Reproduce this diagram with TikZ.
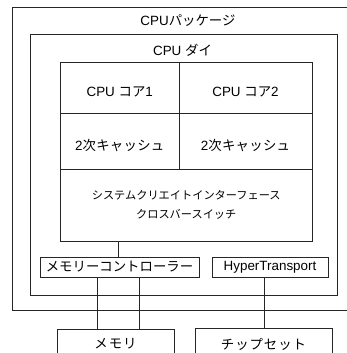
\documentclass[tikz,border=0pt]{standalone}
\usepackage{fontspec}
\setmainfont{Liberation Sans}
\newfontfamily\jp{Noto Sans CJK JP}
\newfontfamily\jpa[LetterSpace=2]{Noto Sans CJK JP}
\newfontfamily\jpb[LetterSpace=7]{Noto Sans CJK JP}
\begin{document}
\begin{tikzpicture}[x=1pt,y=-1pt,
  line/.style={draw=black!85, line width=0.8pt},
  box/.style={line, rectangle, inner sep=0pt, outer sep=0pt, anchor=center, align=center, font=\fontsize{13.4}{16}\selectfont},
  lbl/.style={inner sep=0pt, font=\fontsize{13.4}{16}\selectfont},
  cell/.style={box, label={[lbl, yshift=-4.5pt]center:#1}}]
\useasboundingbox (0,0) rectangle (347,353);
\clip (0,0) rectangle (347,353);
% package and die
\node[box, minimum width=387.5pt, minimum height=302.5pt] (pkg) at (206.25,158.75) {};
\node[lbl] (pkglbl) at (188,21) {CPU{\jp パッケージ}};
\node[box, minimum width=306.5pt, minimum height=261pt] (die) at (183.75,164.5) {};
\node[lbl] (dielbl) at (182.5,50) {CPU {\jp ダイ}};
% cores and caches
\node[cell={CPU {\jp コア}1}, minimum width=118.5pt, minimum height=51pt] (core1) at (119.75,87.5) {};
\node[cell={CPU {\jp コア}2}, minimum width=133pt, minimum height=51pt] (core2) at (245.5,87.5) {};
\node[cell={2{\jpa 次キャッシュ}}, minimum width=118.5pt, minimum height=56pt] (cache1) at (119.75,141) {};
\node[cell={2{\jpa 次キャッシュ}}, minimum width=133pt, minimum height=56pt] (cache2) at (245.5,141) {};
\node[box, minimum width=251.5pt, minimum height=72pt, font=\fontsize{11.2}{19}\selectfont] (xbar) at (186.25,205) {\jp システムクリエイトインターフェース\\\jp クロスバースイッチ};
% controllers
\node[box, minimum width=159pt, minimum height=20pt] (memctrl) at (119.5,267) {\jp メモリーコントローラー};
\node[box, minimum width=116pt, minimum height=20pt] (ht) at (270,267) {HyperTransport};
% external
\node[box, minimum width=117pt, minimum height=30pt] (mem) at (115.5,344) {\jpb メモリ};
\node[box, minimum width=137pt, minimum height=32pt] (chip) at (263.5,344) {\jpb チップセット};
% connectors
\coordinate (cx) at (118,0);
\coordinate (m1) at (97,0);
\coordinate (m2) at (139,0);
\coordinate (hx) at (264,0);
\draw[line] (xbar.south -| cx) -- (memctrl.north -| cx);
\draw[line] (memctrl.south -| m1) -- (mem.north -| m1);
\draw[line] (memctrl.south -| m2) -- (mem.north -| m2);
\draw[line] (ht.south -| hx) -- (chip.north -| hx);
\end{tikzpicture}
\end{document}
